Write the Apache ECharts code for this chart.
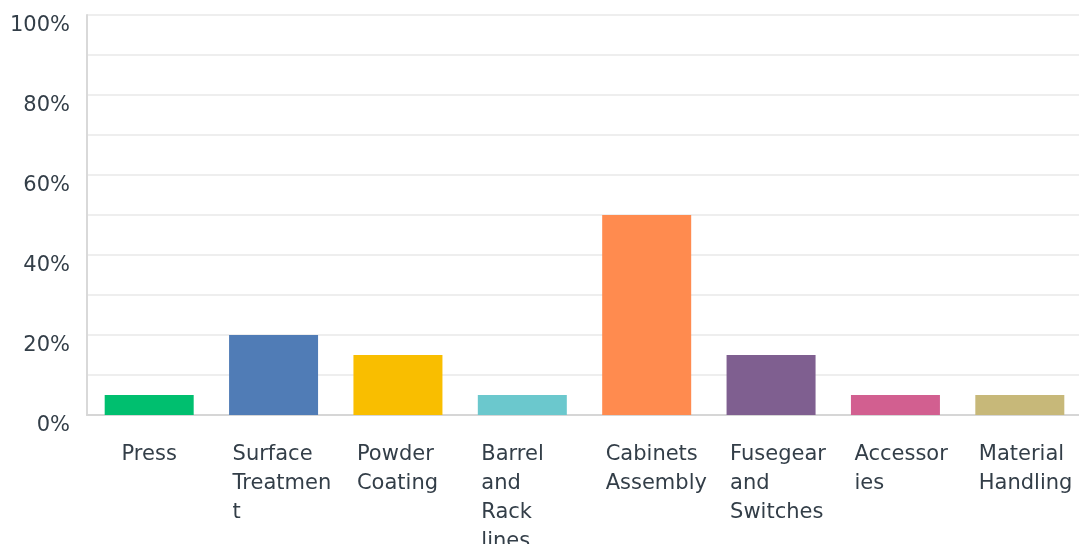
<!DOCTYPE html>
<html>
<head>
<meta charset="utf-8">
<script src="https://cdn.jsdelivr.net/npm/echarts@6/dist/echarts.min.js"></script>
<style>
  html, body { margin: 0; padding: 0; background: #ffffff; }
  #chart { width: 1079px; height: 544px; }
</style>
</head>
<body>
<div id="chart"></div>
<script>
// Category labels as they wrap under each bar
const categories = [
  'Press',
  'Surface\nTreatmen\nt',
  'Powder\nCoating',
  'Barrel\nand\nRack\nlines',
  'Cabinets\nAssembly',
  'Fusegear\nand\nSwitches',
  'Accessor\nies',
  'Material\nHandling'
];
// Share of responses per category (%)
const percentages = [5, 20, 15, 5, 50, 15, 5, 5];
const barColors = ['#00bf6f', '#507cb6', '#f9be00', '#6bc8cd', '#ff8b4f', '#7f5f90', '#d25f90', '#c7b879'];

const textColor = '#333e48';
const fontFamily = '"DejaVu Sans", sans-serif';

const chart = echarts.init(document.getElementById('chart'), null, { renderer: 'canvas' });

chart.setOption({
  backgroundColor: '#ffffff',
  animation: false,
  grid: { left: 87, right: -3, top: 15, bottom: 129, containLabel: false, outerBoundsMode: 'none' },
  xAxis: {
    type: 'category',
    data: categories,
    axisLine: { show: true, lineStyle: { color: '#d6d6d6', width: 2 } },
    axisTick: { show: false },
    axisLabel: {
      interval: 0,
      margin: 25,
      verticalAlign: 'top',
      formatter: function (value) {
        const lines = value.split('\n');
        if (lines.length === 1) return '{c|' + value + '}';
        return lines.map(function (l) { return '{a|' + l + '}'; }).join('\n');
      },
      rich: {
        a: { width: 82, align: 'left', fontSize: 21, lineHeight: 29, color: textColor, fontFamily: fontFamily },
        c: { align: 'center', fontSize: 21, lineHeight: 29, color: textColor, fontFamily: fontFamily }
      }
    }
  },
  yAxis: {
    type: 'value',
    min: 0,
    max: 100,
    interval: 10,
    axisLine: { show: true, lineStyle: { color: '#d9d9d9', width: 2 } },
    axisTick: { show: false },
    splitLine: { show: true, lineStyle: { color: '#eeeeee', width: 2 } },
    axisLabel: {
      margin: 17,
      fontSize: 21,
      lineHeight: 21,
      color: textColor,
      fontFamily: fontFamily,
      verticalAlign: 'top',
      formatter: function (v) { return v % 20 === 0 ? v + '%' : ''; }
    }
  },
  series: [{
    type: 'bar',
    barWidth: 89,
    data: percentages.map(function (v, i) {
      return { value: v, itemStyle: { color: barColors[i] } };
    })
  }]
});
</script>
</body>
</html>
